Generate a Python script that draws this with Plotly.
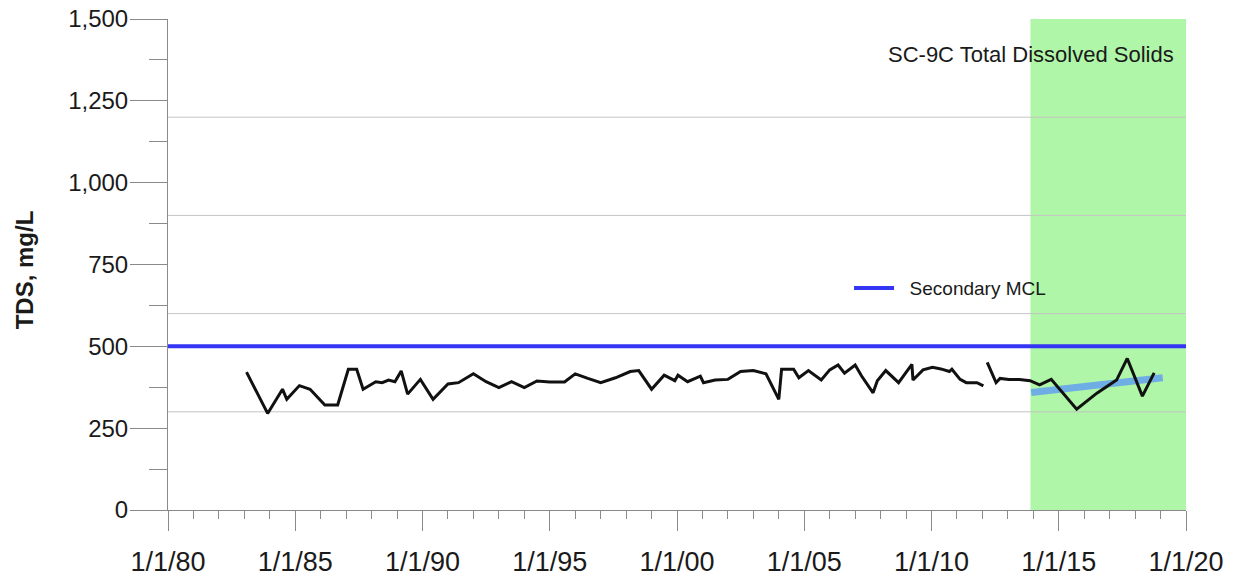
import plotly.graph_objects as go

# ---- data ----
sample_dates = [
    "1983-02-01", "1983-12-01", "1984-07-01", "1984-09-01", "1985-03-01", "1985-08-01",
    "1986-03-01", "1986-09-01", "1987-02-01", "1987-06-01", "1987-09-01", "1988-03-01",
    "1988-06-01", "1988-09-01", "1988-12-01", "1989-03-01", "1989-06-01", "1989-12-01",
    "1990-06-01", "1991-01-01", "1991-06-01", "1992-01-01", "1992-07-01", "1993-01-01",
    "1993-07-01", "1994-01-01", "1994-07-01", "1995-01-01", "1995-08-01", "1996-01-01",
    "1996-07-01", "1997-01-01", "1997-08-01", "1998-03-01", "1998-07-01", "1999-01-01",
    "1999-07-01", "1999-12-01", "2000-01-15", "2000-06-01", "2000-12-01", "2001-01-15",
    "2001-07-01", "2002-01-01", "2002-07-01", "2003-01-01", "2003-07-01", "2004-01-01",
    "2004-02-10", "2004-08-01", "2004-10-15", "2005-03-01", "2005-09-01", "2006-01-01",
    "2006-05-01", "2006-08-01", "2007-01-01", "2007-04-01", "2007-09-15", "2007-11-15",
    "2008-03-15", "2008-09-15", "2009-03-25", "2009-04-10", "2009-09-01", "2010-01-15",
    "2010-05-15", "2010-09-15", "2010-10-20", "2011-02-15", "2011-05-15", "2011-10-15",
    "2012-01-15", "2012-02-10", "2012-03-10", "2012-07-15", "2012-09-10", "2013-01-15",
    "2013-06-15", "2013-11-15", "2014-04-01", "2014-09-15", "2015-09-15", "2016-07-01",
    "2017-04-10", "2017-09-10", "2018-04-15", "2018-10-01",
]
tds_values = [
    421, 295, 369, 338, 380, 369,
    321, 321, 430, 430, 369, 392,
    389, 397, 392, 425, 354, 399,
    338, 385, 389, 416, 392, 374,
    392, 374, 394, 391, 391, 416,
    402, 389, 404, 423, 426, 369,
    412, 395, 412, 392, 409, 389,
    397, 399, 423, 426, 416, 338,
    430, 430, 404, 426, 397, 428,
    443, 418, 443, 410, 358, 395,
    426, 389, 445, 397, 428, 436,
    431, 423, 430, 399, 389, 389,
    379, None, 451, 389, 402, 399,
    399, 395, 382, 399, 308, 357,
    397, 463, 348, 419,
]

trend_dates = ["2013-12-01", "2019-02-01"]
trend_values = [359, 404]

mcl_dates = ["1980-01-01", "2020-01-01"]
mcl_values = [500, 500]

highlight_period = ["2013-11-20", "2020-01-01"]
grid_levels = [300, 600, 900, 1200]

x_tick_dates = ["1980-01-01", "1985-01-01", "1990-01-01", "1995-01-01", "2000-01-01",
                "2005-01-01", "2010-01-01", "2015-01-01", "2020-01-01"]
x_tick_labels = ["1/1/80", "1/1/85", "1/1/90", "1/1/95", "1/1/00",
                 "1/1/05", "1/1/10", "1/1/15", "1/1/20"]

FONT = "Liberation Sans, Arial, sans-serif"
AXIS_GRAY = "#8a8a8a"
TEXT = "#1a1a1a"

fig = go.Figure()

fig.add_trace(go.Scatter(
    x=trend_dates, y=trend_values, mode="lines",
    line=dict(color="rgba(100,160,240,0.85)", width=7),
    showlegend=False, hoverinfo="skip",
))
fig.add_trace(go.Scatter(
    x=mcl_dates, y=mcl_values, mode="lines", name="&nbsp;&nbsp;Secondary MCL",
    line=dict(color="#3535f5", width=4),
))
fig.add_trace(go.Scatter(
    x=sample_dates, y=tds_values, mode="lines", name="TDS",
    line=dict(color="#111111", width=3), connectgaps=False,
    showlegend=False,
))

shapes = [dict(type="rect", xref="x", yref="paper",
               x0=highlight_period[0], x1=highlight_period[1], y0=0, y1=1,
               fillcolor="rgb(176,246,168)", line=dict(width=0), layer="below")]
for g in grid_levels:
    shapes.append(dict(type="line", xref="paper", yref="y", x0=0, x1=1, y0=g, y1=g,
                       line=dict(color="#c4c4c4", width=1), layer="below"))

fig.update_layout(
    width=1232, height=575,
    margin=dict(l=160, r=54, t=11, b=73),
    paper_bgcolor="white", plot_bgcolor="white",
    font=dict(family=FONT, color=TEXT),
    shapes=shapes,
    showlegend=True,
    legend=dict(x=0.669, y=0.452, xanchor="left", yanchor="middle", itemwidth=40,
                bgcolor="rgba(0,0,0,0)", font=dict(size=19, family=FONT, color=TEXT)),
    annotations=[dict(text="SC-9C Total Dissolved Solids", xref="paper", yref="paper",
                      x=0.990, y=0.927, xanchor="right", yanchor="middle", showarrow=False,
                      font=dict(size=22, family=FONT, color=TEXT)),
                 dict(text="<b>TDS, mg/L</b>", xref="paper", yref="paper",
                      x=-0.1415, y=0.49, xanchor="center", yanchor="middle",
                      textangle=-90, showarrow=False,
                      font=dict(size=24, family=FONT, color=TEXT))],
)

fig.update_xaxes(
    type="date", range=["1980-01-01", "2020-01-01"],
    tickmode="array", tickvals=x_tick_dates, ticktext=x_tick_labels,
    ticks="outside", ticklen=20, tickwidth=1, tickcolor=AXIS_GRAY,
    minor=dict(dtick="M12", tick0="1980-01-01", ticks="outside", ticklen=8,
               tickcolor=AXIS_GRAY, showgrid=False),
    showline=True, linecolor=AXIS_GRAY, linewidth=1,
    showgrid=False, zeroline=False,
    tickfont=dict(size=27, family=FONT, color=TEXT),
    ticklabelstandoff=8, ticklabeloverflow="allow",
    automargin=False,
)
fig.update_yaxes(
    range=[0, 1500], tick0=0, dtick=250, tickformat=",",
    ticks="outside", ticklen=37, tickwidth=1, tickcolor=AXIS_GRAY,
    minor=dict(dtick=125, tick0=0, ticks="outside", ticklen=18,
               tickcolor=AXIS_GRAY, showgrid=False),
    showline=True, linecolor=AXIS_GRAY, linewidth=1,
    showgrid=False, zeroline=False,
    tickfont=dict(size=24, family=FONT, color=TEXT),
    ticklabelstandoff=-3, ticklabeloverflow="allow",
    automargin=False,
)

fig.write_html("out.html")
